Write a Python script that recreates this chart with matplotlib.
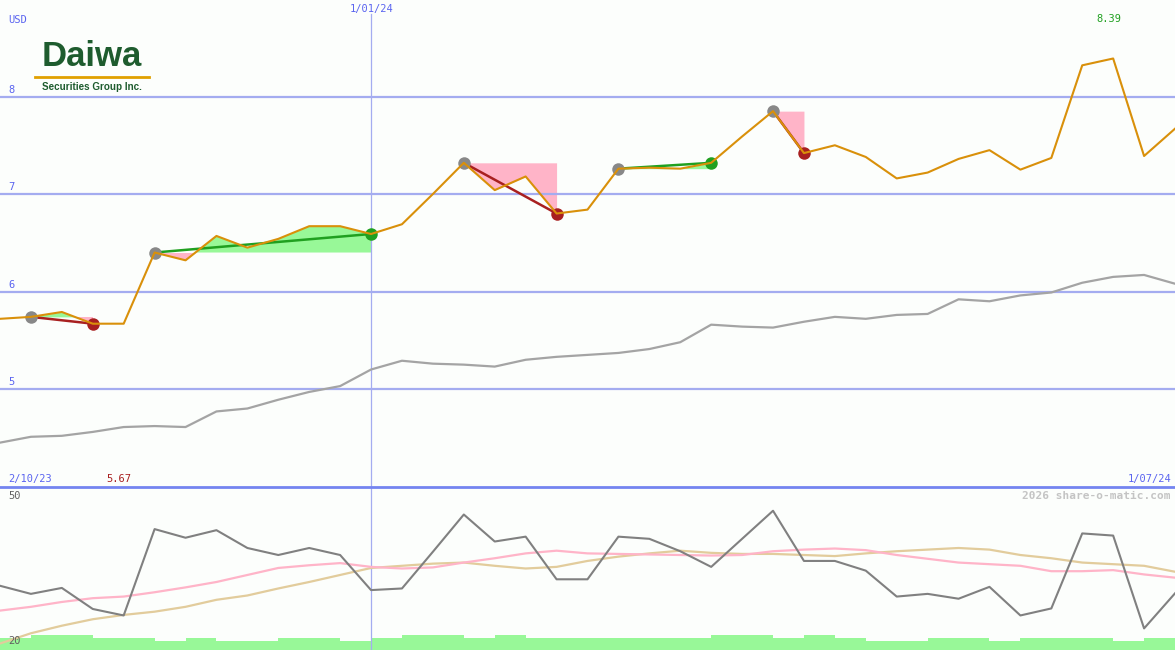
"""
Daiwa Securities weekly price chart (share-o-matic style) with oscillator panel.
"""
import matplotlib
matplotlib.use("Agg")
import matplotlib.pyplot as plt
import numpy as np

# ── Data ──────────────────────────────────────────────────────────────────────
price = [5.72, 5.74, 5.79, 5.67, 5.67, 6.40, 6.32, 6.57, 6.45, 6.54,
         6.67, 6.67, 6.59, 6.69, 7.00, 7.32, 7.04, 7.18, 6.80, 6.84,
         7.26, 7.27, 7.26, 7.32, 7.59, 7.85, 7.42, 7.50, 7.38, 7.16,
         7.22, 7.36, 7.45, 7.25, 7.37, 8.32, 8.39, 7.39, 7.67]
avg = [4.45, 4.51, 4.52, 4.56, 4.61, 4.62, 4.61, 4.77, 4.80, 4.89,
       4.97, 5.03, 5.20, 5.29, 5.26, 5.25, 5.23, 5.30, 5.33, 5.35,
       5.37, 5.41, 5.48, 5.66, 5.64, 5.63, 5.69, 5.74, 5.72, 5.76,
       5.77, 5.92, 5.90, 5.96, 5.99, 6.09, 6.15, 6.17, 6.08]
osc = [31.9, 30.4, 31.5, 27.6, 26.4, 42.4, 40.8, 42.2, 38.9, 37.6,
       38.9, 37.6, 31.1, 31.4, 38.2, 45.1, 40.1, 41.0, 33.1, 33.1,
       41.0, 40.6, 38.3, 35.4, 40.6, 45.8, 36.5, 36.5, 34.7, 29.9,
       30.4, 29.5, 31.7, 26.4, 27.7, 41.6, 41.2, 24.0, 30.5]
osc_fast = [27.3, 28.0, 28.9, 29.6, 29.9, 30.7, 31.6, 32.6, 33.9, 35.2,
            35.7, 36.1, 35.4, 35.1, 35.3, 36.2, 37.0, 37.9, 38.4, 37.9,
            37.8, 37.7, 37.6, 37.5, 37.6, 38.3, 38.6, 38.8, 38.5, 37.6,
            36.9, 36.2, 35.9, 35.6, 34.6, 34.6, 34.8, 34.0, 33.4]
osc_slow = [21.2, 23.1, 24.5, 25.7, 26.5, 27.1, 28.0, 29.3, 30.1, 31.4,
            32.6, 33.9, 35.2, 35.6, 36.0, 36.2, 35.6, 35.1, 35.4, 36.5,
            37.3, 37.9, 38.4, 38.0, 37.8, 37.8, 37.6, 37.4, 37.9, 38.3,
            38.6, 38.9, 38.6, 37.6, 37.0, 36.2, 35.9, 35.6, 34.5]
volume = [22.2, 22.8, 22.8, 22.2, 22.2, 21.7, 22.2, 21.7, 21.7, 22.2,
          22.2, 21.7, 22.2, 22.8, 22.8, 22.2, 22.8, 22.2, 22.2, 22.2,
          22.2, 22.2, 22.2, 22.8, 22.8, 22.2, 22.8, 22.2, 21.7, 21.7,
          22.2, 22.2, 21.7, 22.2, 22.2, 22.2, 21.7, 22.2]
sig_start = [1, 5, 15, 20, 25]
sig_end = [3, 12, 18, 23, 26]
price_levels = [5, 6, 7, 8]
date_first, date_mid, date_last = "2/10/23", "1/01/24", "1/07/24"
mid_idx = 12

# ── Colours ───────────────────────────────────────────────────────────────────
BG = "#fcfefc"
GRID = "#a4acf0"
SEP = "#7484f0"
TXT_BLUE = "#5a64f0"
ORANGE = "#d9900a"
AVG_GRAY = "#a4a4a4"
OSC_GRAY = "#808080"
PINK = "#ffb4c8"
TAN = "#e2cc9c"
LGREEN = "#98f898"
GREEN = "#20a020"
DRED = "#a82020"
LOGO = "#1e5c2e"
MONO = "DejaVu Sans Mono"

x = np.arange(len(price))
p = np.array(price)
N = len(price) - 1

fig = plt.figure(figsize=(11.75, 6.5), dpi=100)
fig.patch.set_facecolor(BG)

top = fig.add_axes([0, 163 / 650, 1, 487 / 650])
bot = fig.add_axes([0, 0, 1, 163 / 650])
for a in (top, bot):
    a.set_facecolor(BG)
    a.set_xlim(0, N)
    a.axis("off")
top.set_ylim(3.995, 8.99)
bot.set_ylim(20, 50.2)


def px(xp, yp):
    return xp / 1175, 1 - yp / 650


# ── Top panel ────────────────────────────────────────────────────────────────
for lv in price_levels:
    top.axhline(lv, color=GRID, lw=1.6, zorder=2)
    top.text(0.007, lv + 0.02, str(lv), transform=top.get_yaxis_transform(),
             fontsize=7.5, family=MONO, color=TXT_BLUE, va="bottom")
top.plot([mid_idx, mid_idx], [3.995, 8.85], color=GRID, lw=0.9, zorder=2)

# shaded moves relative to the signal's starting level
for s, e in zip(sig_start, sig_end):
    xs = x[s:e + 1]
    ys = p[s:e + 1]
    lvl = p[s]
    top.fill_between(xs, lvl, ys, where=ys >= lvl, interpolate=True,
                     color=LGREEN, lw=0, zorder=1)
    top.fill_between(xs, lvl, ys, where=ys <= lvl, interpolate=True,
                     color=PINK, lw=0, zorder=1)

top.plot(x, avg, color=AVG_GRAY, lw=1.6, zorder=3)

for s, e in zip(sig_start, sig_end):
    c_end = GREEN if p[e] > p[s] else DRED
    top.plot([s, e], [p[s], p[e]], color=c_end, lw=1.8, zorder=4)
    top.plot(s, p[s], "o", color="#888888", ms=9, mec="none", zorder=5)
    top.plot(e, p[e], "o", color=c_end, ms=9, mec="none", zorder=5)

top.plot(x, price, color=ORANGE, lw=1.5, zorder=6)

# labels
fig.text(*px(8, 20), "USD", fontsize=7.5, family=MONO, color=TXT_BLUE, va="center")
fig.text(*px(372, 9), date_mid, fontsize=7.5, family=MONO, color=TXT_BLUE,
         ha="center", va="center")
imax = int(np.argmax(p))
top.text(imax - 0.15, 8.8, f"{p.max():.2f}", fontsize=7.5, family=MONO,
         color=GREEN, ha="center", va="center")
imin = int(np.argmin(p))
top.text(imin + 0.85, 4.08, f"{p.min():.2f}", fontsize=7.5, family=MONO,
         color=DRED, ha="center", va="center")
fig.text(*px(8, 479), date_first, fontsize=7.5, family=MONO, color=TXT_BLUE,
         va="center")
fig.text(*px(1171, 479), date_last, fontsize=7.5, family=MONO, color=TXT_BLUE,
         ha="right", va="center")

# logo
fig.text(*px(92, 56), "Daiwa", fontsize=25, fontweight="bold",
         family=["Liberation Sans", "DejaVu Sans"], color=LOGO,
         ha="center", va="center")
fig.add_artist(plt.Line2D([35 / 1175, 149 / 1175], [1 - 77 / 650] * 2,
                          color="#e0a000", lw=2))
fig.text(*px(92, 87), "Securities Group Inc.", fontsize=7.1, fontweight="bold",
         family=["Liberation Sans", "DejaVu Sans"], color=LOGO,
         ha="center", va="center")

# ── Separator ────────────────────────────────────────────────────────────────
fig.add_artist(plt.Line2D([0, 1], [1 - 487 / 650] * 2, color=SEP, lw=2))

# ── Bottom panel ─────────────────────────────────────────────────────────────
bot.bar(np.arange(len(volume)) + 0.5, np.array(volume) - 20, bottom=20,
        width=1.0, color=LGREEN, lw=0, zorder=1)
bot.axvline(mid_idx, color=GRID, lw=0.9, zorder=2)
bot.plot(x, osc_slow, color=TAN, lw=1.6, zorder=3)
bot.plot(x, osc_fast, color=PINK, lw=1.6, zorder=3)
bot.plot(x, osc, color=OSC_GRAY, lw=1.5, zorder=4)
fig.text(*px(8, 496), "50", fontsize=7.5, family=MONO, color="#606060", va="center")
fig.text(*px(8, 641), "20", fontsize=7.5, family=MONO, color="#606060", va="center")
fig.text(*px(1171, 496), "2026 share-o-matic.com", fontsize=8, family=MONO,
         fontweight="bold", color="#c4c4c4", ha="right", va="center")

fig.savefig("out.png", dpi=100, facecolor=fig.get_facecolor())
